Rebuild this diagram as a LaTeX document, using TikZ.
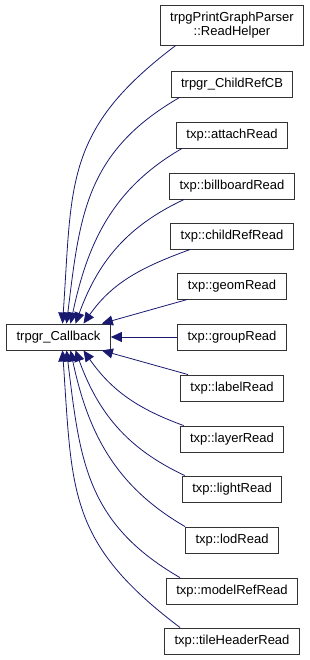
\documentclass[tikz,border=0pt]{standalone}
\usepackage{fontspec}
\setmainfont{Liberation Sans}
\usetikzlibrary{arrows.meta}
\definecolor{edgeblue}{HTML}{191970}

\begin{document}
\begin{tikzpicture}[
    x=1pt, y=-1pt,
    cls/.style={draw=black!80, line width=0.9pt, fill=white, inner xsep=10pt, inner ysep=0pt, minimum height=26pt, align=center, font=\fontsize{13}{14}\selectfont},
    inh/.style={{Triangle[length=11pt,width=10pt]}-, edgeblue, line width=0.8pt}
]
\useasboundingbox (0,0) rectangle (309,660);

\node[cls] (cb) at (58.5,337) {trpgr\_Callback};

\node[cls, minimum height=40pt] (pgp) at (232,25) {trpgPrintGraphParser\\::ReadHelper};
\node[cls] (childcb) at (232,84) {trpgr\_ChildRefCB};
\node[cls] (attach) at (232,135) {txp::attachRead};
\node[cls] (billboard) at (232,186) {txp::billboardRead};
\node[cls] (childref) at (232,236) {txp::childRefRead};
\node[cls] (geom) at (232,286) {txp::geomRead};
\node[cls] (group) at (232,337) {txp::groupRead};
\node[cls] (label) at (232,388) {txp::labelRead};
\node[cls] (layer) at (232,439) {txp::layerRead};
\node[cls] (light) at (232,489) {txp::lightRead};
\node[cls] (lod) at (232,540) {txp::lodRead};
\node[cls] (modelref) at (232,591) {txp::modelRefRead};
\node[cls] (tileheader) at (232,641) {txp::tileHeaderRead};

% upper edges
\draw[inh] ([xshift=4pt]cb.north) to[out=86,in=217,looseness=1.2] ([xshift=16pt]pgp.south west);
\draw[inh] ([xshift=8pt]cb.north) to[out=83,in=210,looseness=1.1] ([xshift=9pt]childcb.south west);
\draw[inh] ([xshift=12pt]cb.north) to[out=78,in=210] ([xshift=6pt]attach.south west);
\draw[inh] ([xshift=17pt]cb.north) to[out=70,in=205] ([xshift=15pt]billboard.south west);
\draw[inh] ([xshift=25pt]cb.north) to[out=55,in=200] ([xshift=20pt]childref.south west);
\draw[inh] ([xshift=-9pt]cb.north east) -- ([xshift=10pt]geom.south west);
\draw[inh] (cb.east) -- (group.west);
% lower edges
\draw[inh] ([xshift=-9pt]cb.south east) -- ([xshift=8pt]label.north west);
\draw[inh] ([xshift=25pt]cb.south) to[out=-55,in=160] ([xshift=4pt]layer.north west);
\draw[inh] ([xshift=17pt]cb.south) to[out=-70,in=155] ([xshift=3pt]light.north west);
\draw[inh] ([xshift=12pt]cb.south) to[out=-78,in=150] (lod.north west);
\draw[inh] ([xshift=8pt]cb.south) to[out=-83,in=150,looseness=1.1] ([xshift=14pt]modelref.north west);
\draw[inh] ([xshift=4pt]cb.south) to[out=-86,in=143,looseness=1.2] ([xshift=16pt]tileheader.north west);
\end{tikzpicture}
\end{document}
